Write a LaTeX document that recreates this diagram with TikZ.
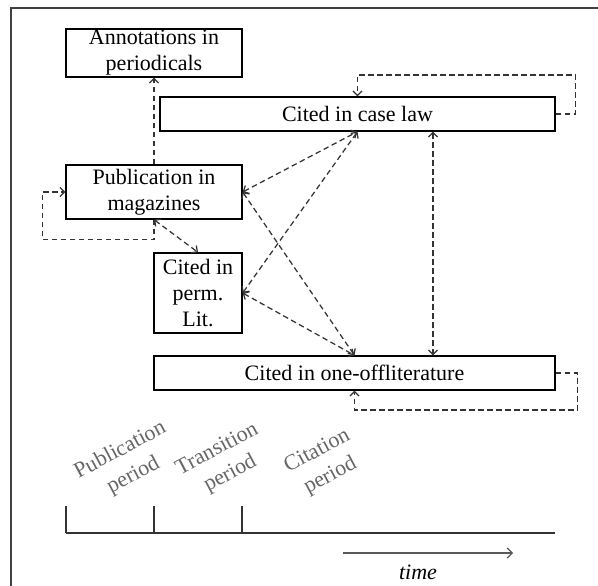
\documentclass[tikz,border=0pt]{standalone}
\usepackage{fontspec}
\setmainfont{Liberation Serif}
\usetikzlibrary{arrows.meta}

\begin{document}
\begin{tikzpicture}[x=1pt,y=-1pt]
        \def\txtsize{\fontsize{22}{26}\selectfont}
        \def\persize{\fontsize{22}{28}\selectfont}
        \tikzstyle{box} = [draw, line width=1.3pt, inner sep=0pt, align=center, font=\txtsize]
        \tikzstyle{flow} = [draw=black!80, line width=1.25pt, dash pattern=on 5.5pt off 3.5pt, >={Straight Barb[length=4.5pt,width=9pt]}]
        \tikzstyle{period} = [rotate=28, align=center, text=black!60, font=\persize, inner sep=0pt]
        \useasboundingbox (0,0) rectangle (598,586);
        % Draw the outer frame (only its left and top edges show)
        \draw[black!75, line width=1.6pt] (11,590) -- (11,8) -- (602,8);
        % Draw the boxes
        \node[box, minimum width=176pt, minimum height=48pt] (annot) at (154,53) {Annotations in\\periodicals};
        \node[box, minimum width=395pt, minimum height=34pt] (case) at (357.5,114) {Cited in case law};
        \node[box, minimum width=176pt, minimum height=54pt] (pub) at (154,192) {Publication in\\magazines};
        \node[box, minimum width=88pt, minimum height=80pt] (perm) at (198,293) {Cited in\\perm.\\Lit.};
        \node[box, minimum width=401pt, minimum height=34pt] (oneoff) at (354.5,373) {Cited in one-offliterature};
        % Draw the dashed flows between the boxes
        \draw[flow, ->] (pub.north) -- (annot.south);
        \draw[flow, <->] (pub.south) -- (perm.north);
        \draw[flow, <->] (pub.east) -- (case.south);
        \draw[flow, <->] (perm.east) -- (case.south);
        \draw[flow, <->] (pub.east) -- (oneoff.north);
        \draw[flow, <->] (perm.east) -- (oneoff.north);
        \draw[flow, <->] ([xshift=75.5pt]case.south) -- ([xshift=78.5pt]oneoff.north);
        % Draw the self loops
        \draw[flow, ->] (pub.south) -- ++(0,20) -| ([xshift=-23pt]pub.west) -- (pub.west);
        \draw[flow, ->] (case.east) -- ++(20,0) -- ++(0,-39) -| (case.north);
        \draw[flow, ->] (oneoff.east) -- ++(22,0) -- ++(0,37) -| (oneoff.south);
        % Draw the period labels
        \node[period] (pubper) at (127,463) {Publication\\period};
        \node[period] (transper) at (224,462) {Transition\\period};
        \node[period] (citeper) at (324,464) {Citation\\period};
        % Draw the timeline with its ticks
        \coordinate (tstart) at (66,533);
        \coordinate (tend) at (555,533);
        \draw[black!80, line width=1.3pt] (tstart) -- (tend);
        \foreach \x in {66,154,242} {
            \draw[black!80, line width=1.3pt] (\x,533) -- (\x,506);
        }
        % Draw the time arrow
        \coordinate (arrstart) at (343,553);
        \coordinate (arrend) at (513,553);
        \draw[black!65, line width=1.2pt, -{Straight Barb[length=5pt,width=10pt]}] (arrstart) -- (arrend);
        \node[font=\txtsize\itshape] (timelbl) at (418,572) {time};

    \end{tikzpicture}
\end{document}
